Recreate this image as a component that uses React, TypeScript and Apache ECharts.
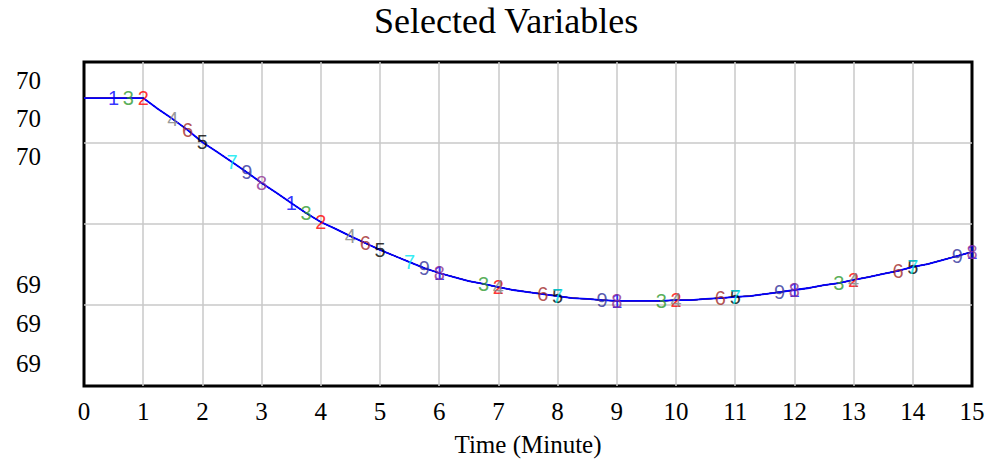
import React, { useEffect, useRef } from "react";
import * as echarts from "echarts";

// Time axis (minutes), quarter-minute steps
const times: number[] = [
  0, 0.25, 0.5, 0.75, 1, 1.25, 1.5, 1.75, 2, 2.25, 2.5, 2.75, 3, 3.25, 3.5, 3.75,
  4, 4.25, 4.5, 4.75, 5, 5.25, 5.5, 5.75, 6, 6.25, 6.5, 6.75, 7, 7.25, 7.5, 7.75,
  8, 8.25, 8.5, 8.75, 9, 9.25, 9.5, 9.75, 10, 10.25, 10.5, 10.75, 11, 11.25, 11.5, 11.75,
  12, 12.25, 12.5, 12.75, 13, 13.25, 13.5, 13.75, 14, 14.25, 14.5, 14.75, 15,
];

// Shared trajectory of the selected variables (all nine overlap)
const values: number[] = [
  70.311, 70.311, 70.311, 70.311, 70.311, 70.284, 70.259, 70.232, 70.202, 70.178, 70.153, 70.128,
  70.101, 70.077, 70.052, 70.027, 70.005, 69.988, 69.970, 69.953, 69.936, 69.921, 69.906, 69.891,
  69.879, 69.869, 69.859, 69.852, 69.844, 69.837, 69.832, 69.827, 69.822, 69.817, 69.815, 69.812,
  69.810, 69.810, 69.810, 69.810, 69.812, 69.812, 69.815, 69.817, 69.820, 69.822, 69.827, 69.832,
  69.837, 69.842, 69.849, 69.854, 69.862, 69.869, 69.877, 69.884, 69.894, 69.901, 69.911, 69.921,
  69.931,
];

const seriesNames: string[] = ["1", "2", "3", "4", "5", "6", "7", "8", "9"];
const seriesColors: string[] = [
  "#0000ff", "#ff0000", "#2e9a2e", "#808080", "#000000", "#a02828", "#00e8f0", "#903090", "#30309a",
];

// Times at which each series' number marker is printed
const markerTimes: number[][] = [
  [0.5, 3.5, 6, 9, 12, 15],
  [1, 4, 7, 10, 13],
  [0.75, 3.75, 6.75, 9.75, 12.75],
  [1.5, 4.5, 7, 10, 13],
  [2, 5, 8, 11, 14],
  [1.75, 4.75, 7.75, 10.75, 13.75],
  [2.5, 5.5, 8, 11, 14],
  [3, 6, 9, 12, 15],
  [2.75, 5.75, 8.75, 11.75, 14.75],
];

const xTicks: string[] = ["0", "1", "2", "3", "4", "5", "6", "7", "8", "9", "10", "11", "12", "13", "14", "15"];
const yLabelsTop: string[] = ["70", "70", "70"];
const yLabelsBottom: string[] = ["69", "69", "69"];

const titleText = "Selected Variables";
const xAxisName = "Time (Minute)";

const serif = "'Liberation Serif', 'Times New Roman', serif";

export default function App() {
  const ref = useRef<HTMLDivElement>(null);

  useEffect(() => {
    if (!ref.current) return;
    const chart = echarts.init(ref.current, undefined, { renderer: "svg" });

    const lineData = times.map((t, i) => [t, values[i]]);

    const lineSeries: any[] = [];
    const markerSeries: any[] = [];
    for (let k = seriesNames.length - 1; k >= 0; k--) {
      lineSeries.push({
        type: "line",
        name: seriesNames[k],
        data: lineData,
        showSymbol: false,
        symbol: "none",
        lineStyle: { color: seriesColors[k], width: k === 0 ? 1.8 : 1 },
        z: 2,
        silent: true,
      });
    }
    for (let k = 0; k < seriesNames.length; k++) {
      markerSeries.push({
        type: "scatter",
        name: "m" + seriesNames[k],
        data: markerTimes[k].map((t) => [t, values[times.indexOf(t)]]),
        symbol: "circle",
        symbolSize: 8,
        itemStyle: { color: "rgba(0,0,0,0)" },
        label: {
          show: true,
          position: "inside",
          formatter: seriesNames[k],
          color: seriesColors[k],
          fontSize: 20,
          fontFamily: "'Liberation Sans', Arial, sans-serif",
        },
        z: 3,
        silent: true,
      });
    }

    const graphics: any[] = [];
    const topY = [81, 119, 157];
    const botY = [285, 324, 364];
    yLabelsTop.forEach((s, i) =>
      graphics.push({
        type: "text",
        right: 989 - 41,
        top: topY[i] - 13,
        style: { text: s, font: `25px ${serif}`, fill: "#000" },
      })
    );
    yLabelsBottom.forEach((s, i) =>
      graphics.push({
        type: "text",
        right: 989 - 41,
        top: botY[i] - 13,
        style: { text: s, font: `25px ${serif}`, fill: "#000" },
      })
    );

    chart.setOption({
      animation: false,
      backgroundColor: "#ffffff",
      title: {
        text: titleText,
        left: 369,
        top: -2,
        textStyle: { fontFamily: serif, fontSize: 36, fontWeight: "normal", color: "#000" },
      },
      grid: {
        left: 84,
        right: 17,
        top: 62,
        bottom: 77,
        show: true,
        borderColor: "#000",
        borderWidth: 3,
        backgroundColor: "#fff",
      },
      xAxis: {
        type: "value",
        min: 0,
        max: 15,
        interval: 1,
        name: xAxisName,
        nameLocation: "middle",
        nameGap: 46,
        nameTextStyle: { fontFamily: serif, fontSize: 25, color: "#000" },
        axisLine: { show: false },
        axisTick: { show: false },
        axisLabel: {
          fontFamily: serif,
          fontSize: 25,
          color: "#000",
          margin: 13,
          formatter: (v: number) => xTicks[Math.round(v)] ?? "",
        },
        splitLine: {
          show: true,
          showMinLine: false,
          showMaxLine: false,
          lineStyle: { color: "#c8c8c8", width: 1.5 },
        },
      },
      yAxis: {
        type: "value",
        min: 69.6,
        max: 70.4,
        interval: 0.2,
        axisLine: { show: false },
        axisTick: { show: false },
        axisLabel: { show: false },
        splitLine: {
          show: true,
          showMinLine: false,
          showMaxLine: false,
          lineStyle: { color: "#c8c8c8", width: 1.5 },
        },
      },
      graphic: graphics,
      series: [...lineSeries, ...markerSeries],
    });

    return () => chart.dispose();
  }, []);

  return (
    <div
      ref={ref}
      style={{ position: "absolute", left: 0, top: 0, width: 989, height: 463, background: "#fff" }}
    />
  );
}
